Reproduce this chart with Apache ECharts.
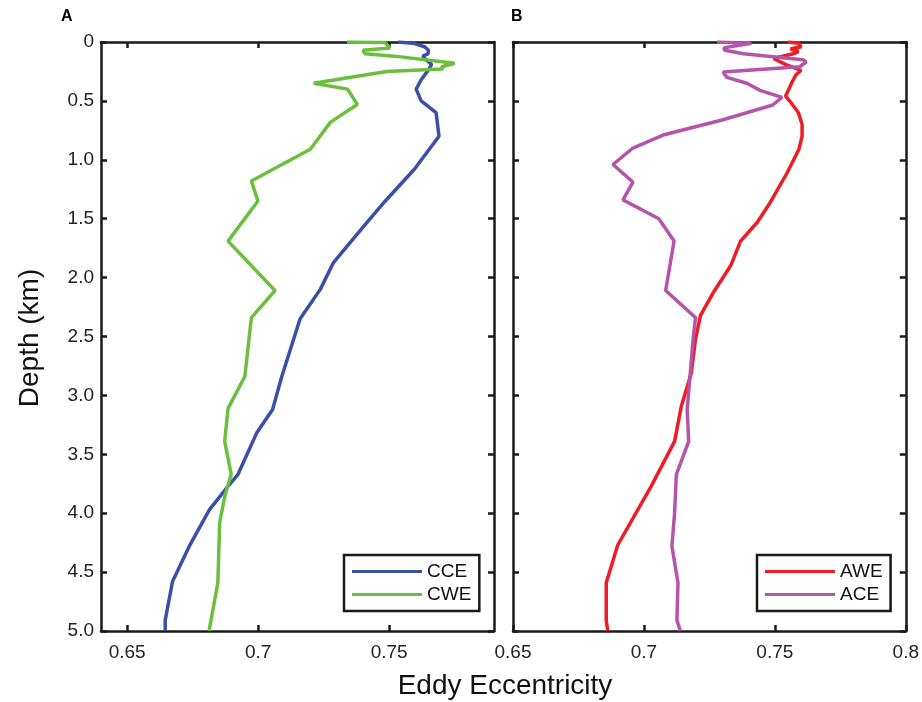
<!DOCTYPE html>
<html>
<head>
<meta charset="utf-8">
<script src="https://cdn.jsdelivr.net/npm/echarts@6/dist/echarts.min.js"></script>
<style>
html, body { margin: 0; padding: 0; background: #fff; }
#main { width: 922px; height: 702px; }
</style>
</head>
<body>
<div id="main"></div>
<script>
// panel A: cyclonic / warm eddies
var cceDepth = [0, 0.01, 0.04, 0.07, 0.10, 0.12, 0.15, 0.19, 0.23, 0.32, 0.40, 0.50, 0.60, 0.80, 1.08, 1.36, 1.56, 1.87, 2.10, 2.35, 2.84, 3.12, 3.32, 3.67, 3.79, 3.97, 4.28, 4.58, 4.91, 5.0];
var cceValue = [0.7534, 0.7591, 0.7635, 0.7650, 0.7648, 0.7628, 0.7640, 0.7662, 0.7652, 0.7622, 0.7603, 0.7622, 0.7679, 0.7690, 0.7596, 0.7481, 0.7404, 0.7288, 0.7237, 0.7160, 0.7090, 0.7055, 0.6994, 0.6923, 0.6878, 0.6814, 0.6737, 0.6673, 0.6645, 0.6645];

var cweDepth = [0, 0.005, 0.05, 0.07, 0.10, 0.12, 0.18, 0.21, 0.23, 0.25, 0.35, 0.40, 0.53, 0.68, 0.91, 1.18, 1.35, 1.69, 2.11, 2.34, 2.84, 3.11, 3.39, 3.67, 3.86, 4.08, 4.59, 4.98, 5.0];
var cweValue = [0.7339, 0.7484, 0.7503, 0.7400, 0.7408, 0.7520, 0.7750, 0.7700, 0.7705, 0.7490, 0.7212, 0.7341, 0.7378, 0.7276, 0.7199, 0.6974, 0.6999, 0.6885, 0.7064, 0.6974, 0.6949, 0.6885, 0.6872, 0.6897, 0.6872, 0.6853, 0.6846, 0.6814, 0.6814];

// panel B: anticyclonic / warm eddies
var aweDepth = [0, 0.01, 0.04, 0.06, 0.08, 0.10, 0.14, 0.19, 0.24, 0.28, 0.34, 0.46, 0.51, 0.60, 0.70, 0.80, 0.91, 1.11, 1.36, 1.53, 1.69, 1.90, 2.12, 2.32, 2.52, 2.81, 3.09, 3.39, 3.77, 4.27, 4.59, 4.91, 5.0];
var aweValue = [0.7550, 0.7590, 0.7600, 0.7560, 0.7590, 0.7570, 0.7495, 0.7540, 0.7600, 0.7580, 0.7566, 0.7541, 0.7560, 0.7590, 0.7604, 0.7604, 0.7592, 0.7547, 0.7483, 0.7433, 0.7369, 0.7331, 0.7267, 0.7216, 0.7197, 0.7181, 0.7143, 0.7117, 0.7028, 0.6900, 0.6856, 0.6856, 0.6862];

var aceDepth = [0, 0.01, 0.05, 0.07, 0.10, 0.15, 0.17, 0.21, 0.255, 0.30, 0.35, 0.41, 0.47, 0.535, 0.66, 0.79, 0.90, 1.04, 1.19, 1.34, 1.50, 1.69, 2.11, 2.34, 2.52, 3.12, 3.39, 3.67, 4.00, 4.28, 4.59, 4.91, 5.0];
var aceValue = [0.7279, 0.7410, 0.7305, 0.7309, 0.7380, 0.7607, 0.7620, 0.7595, 0.7302, 0.7317, 0.7393, 0.7443, 0.7527, 0.7492, 0.7302, 0.7073, 0.6958, 0.6882, 0.6958, 0.6920, 0.7057, 0.7115, 0.7083, 0.7197, 0.7188, 0.7165, 0.7171, 0.7124, 0.7117, 0.7107, 0.7130, 0.7126, 0.7139];

var xTicksA = [0.65, 0.7, 0.75];

function pairs(vals, depths) {
    return vals.map(function (v, i) { return [v, depths[i]]; });
}

var font = '"Liberation Sans", Arial, sans-serif';
var frame = { show: true, onZero: false, lineStyle: { color: '#1a1a1a', width: 2.5 } };
var tick = { show: true, inside: true, length: 6, lineStyle: { color: '#1a1a1a', width: 2.5 } };

function xAxis(grid, pos, min, max, labels) {
    var ax = {
        type: 'value', gridIndex: grid, position: pos, min: min, max: max,
        axisLine: frame, splitLine: { show: false },
        axisTick: Object.assign({}, tick),
        axisLabel: { show: labels, color: '#222', fontSize: 19, fontFamily: font, margin: 12 }
    };
    if (min === 0.64) {
        ax.axisTick.customValues = xTicksA;
        ax.axisLabel.customValues = xTicksA;
    } else {
        ax.interval = 0.05;
    }
    return ax;
}

function yAxis(grid, pos, labels) {
    return {
        type: 'value', gridIndex: grid, position: pos, inverse: true, min: 0, max: 5, interval: 0.5,
        axisLine: frame, splitLine: { show: false }, axisTick: tick,
        axisLabel: {
            show: labels, color: '#222', fontSize: 19, fontFamily: font, margin: 7,
            formatter: function (v) { return v === 0 ? '0' : v.toFixed(1); }
        }
    };
}

function legend(left, names) {
    return {
        left: left, top: 555, orient: 'vertical', data: names,
        icon: 'path://M0,0 L70,0 L70,3 L0,3 Z',
        borderColor: '#1a1a1a', borderWidth: 2.5, padding: [7, 8, 7, 8],
        itemWidth: 70, itemHeight: 3.5, itemGap: 4, selectedMode: false,
        textStyle: { color: '#111', fontSize: 19, fontFamily: font }
    };
}

function line(name, color, vals, depths, axis) {
    return {
        name: name, type: 'line', xAxisIndex: axis, yAxisIndex: axis,
        data: pairs(vals, depths), symbol: 'none', animation: false,
        lineStyle: { color: color, width: 3.5 }, itemStyle: { color: color }
    };
}

var chart = echarts.init(document.getElementById('main'));
chart.setOption({
    backgroundColor: '#fff',
    grid: [
        { left: 101, width: 393, top: 42, height: 589 },
        { left: 513, width: 394, top: 42, height: 589 }
    ],
    xAxis: [
        xAxis(0, 'bottom', 0.64, 0.79, true),
        xAxis(0, 'top', 0.64, 0.79, false),
        xAxis(1, 'bottom', 0.65, 0.8, true),
        xAxis(1, 'top', 0.65, 0.8, false)
    ],
    yAxis: [
        yAxis(0, 'left', true),
        yAxis(0, 'right', false),
        yAxis(1, 'left', false),
        yAxis(1, 'right', false)
    ],
    legend: [legend(344, ['CCE', 'CWE']), legend(757, ['AWE', 'ACE'])],
    series: [
        line('CCE', '#3a4fa8', cceValue, cceDepth, 0),
        line('CWE', '#6cbf3e', cweValue, cweDepth, 0),
        line('AWE', '#ee1c24', aweValue, aweDepth, 2),
        line('ACE', '#b455aa', aceValue, aceDepth, 2)
    ],
    graphic: [
        { type: 'text', left: 61, top: 9, style: { text: 'A', font: 'bold 16px ' + font, fill: '#000' } },
        { type: 'text', left: 511, top: 9, style: { text: 'B', font: 'bold 16px ' + font, fill: '#000' } },
        { type: 'text', x: 505, y: 686, style: { text: 'Eddy Eccentricity', font: '28px ' + font, fill: '#111', align: 'center', verticalAlign: 'middle' } },
        { type: 'text', x: 30, y: 338, rotation: Math.PI / 2, style: { text: 'Depth (km)', font: '28px ' + font, fill: '#111', align: 'center', verticalAlign: 'middle' } }
    ]
});
</script>
</body>
</html>
